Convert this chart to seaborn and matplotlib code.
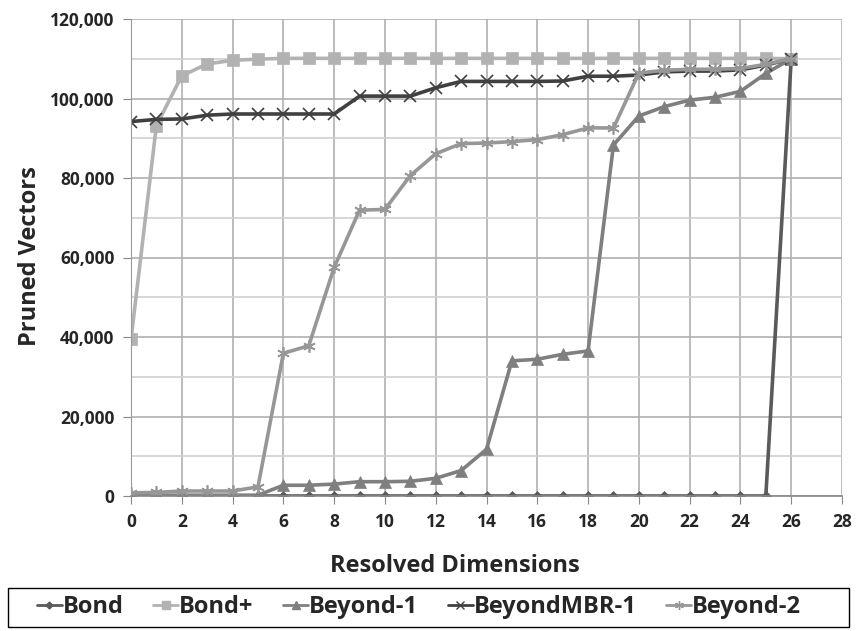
import numpy as np
import pandas as pd
import seaborn as sns
import matplotlib
matplotlib.use("Agg")
import matplotlib.pyplot as plt
from matplotlib.ticker import FuncFormatter, MultipleLocator
from matplotlib.lines import Line2D
from matplotlib.patches import Rectangle

dims = list(range(0, 27))

bond = [0] * 26 + [110000]
bond_plus = [39400, 93200, 105700, 108700, 109600, 109900] + [110100] * 20 + [110000]
beyond_1 = [200, 200, 200, 200, 200, 200, 2700, 2700, 3000, 3600, 3600, 3700, 4450,
            6400, 11750, 34000, 34400, 35650, 36500, 88300, 95600, 97950, 99600,
            100300, 101800, 106300, 110000]
beyond_mbr_1 = [94200, 94750, 94850, 95800, 96100, 96100, 96100, 96100, 96100, 100600,
                100600, 100600, 102700, 104300, 104300, 104300, 104300, 104400, 105600,
                105600, 105900, 106700, 106900, 106900, 107200, 108400, 110000]
beyond_2 = [800, 900, 1250, 1250, 1250, 2300, 35900, 37800, 57500, 71900, 72100, 80600,
            86100, 88650, 88800, 89150, 89650, 90900, 92600, 92600, 106400, 107100,
            107350, 107350, 107550, 108600, 110000]

series_names = ["Bond", "Bond+", "Beyond-1", "BeyondMBR-1", "Beyond-2"]
series_vals = [bond, bond_plus, beyond_1, beyond_mbr_1, beyond_2]

df = pd.DataFrame({
    "dim": dims * len(series_names),
    "val": sum(series_vals, []),
    "series": sum([[n] * len(dims) for n in series_names], []),
})

colors = {"Bond": "#5a5a5a", "Bond+": "#b2b2b2", "Beyond-1": "#7f7f7f",
          "BeyondMBR-1": "#404040", "Beyond-2": "#979797"}
markers = {"Bond": "D", "Bond+": "s", "Beyond-1": "^", "BeyondMBR-1": "x",
           "Beyond-2": (6, 2, 0)}
msizes = {"Bond": 5, "Bond+": 8, "Beyond-1": 8, "BeyondMBR-1": 8, "Beyond-2": 9}

sns.set_style("white")
plt.rcParams["font.family"] = ["Open Sans", "DejaVu Sans"]
plt.rcParams["font.weight"] = "bold"

W, H = 857, 631
fig = plt.figure(figsize=(W / 100, H / 100), dpi=100)
ax = fig.add_axes([131 / W, 1 - 496 / H, (842 - 131) / W, (496 - 19) / H])

ax.yaxis.set_minor_locator(MultipleLocator(10000))
ax.grid(True, which="major", color="#b0b0b0", linewidth=1.2)
ax.grid(True, which="minor", axis="y", color="#d0d0d0", linewidth=1.2)
ax.set_axisbelow(True)

for name in series_names:
    sub = df[df["series"] == name]
    sns.lineplot(data=sub, x="dim", y="val", ax=ax, color=colors[name],
                 marker=markers[name], markersize=msizes[name],
                 markeredgecolor=colors[name], markerfacecolor=colors[name],
                 markeredgewidth=1.2 if name in ("BeyondMBR-1", "Beyond-2") else 0.5,
                 linewidth=2.6, label=name, legend=False)

ax.set_xlim(0, 28)
ax.set_ylim(0, 120000)
ax.set_xticks(range(0, 29, 2))
ax.set_yticks(range(0, 120001, 20000))
ax.yaxis.set_major_formatter(FuncFormatter(lambda v, p: f"{int(v):,}"))
ax.tick_params(axis="both", which="major", labelsize=12.5, length=6, color="#888888",
               direction="out", left=True, bottom=True, pad=6)
ax.tick_params(axis="y", which="minor", length=0)
for lab in ax.get_xticklabels() + ax.get_yticklabels():
    lab.set_fontweight("bold")

for s in ["top", "right"]:
    ax.spines[s].set_visible(False)
ax.spines["left"].set_color("#999999")
ax.spines["bottom"].set_color("#888888")
ax.spines["bottom"].set_linewidth(1.2)

ax.set_xlabel("")
ax.set_ylabel("")
fig.text(455 / W, 1 - 566 / H, "Resolved Dimensions", fontsize=17, fontweight="bold",
         ha="center", va="center")
fig.text(30 / W, 1 - 256 / H, "Pruned Vectors", fontsize=17, fontweight="bold",
         ha="center", va="center", rotation=90)

fig.patches.append(Rectangle((8 / W, 1 - 627 / H), 841 / W, 39 / H,
                             transform=fig.transFigure, fill=False,
                             edgecolor="#000000", linewidth=1.0))

handles = [Line2D([0], [0], color=colors[n], marker=markers[n], markersize=msizes[n] * 0.7,
                  markeredgecolor=colors[n], linewidth=2) for n in series_names]
leg = fig.legend(handles, series_names, loc="center", ncol=5,
                 bbox_to_anchor=(419 / W, 1 - 607 / H),
                 frameon=False, handlelength=1.05, columnspacing=1.25,
                 handletextpad=0.05, borderaxespad=0, borderpad=0,
                 prop={"size": 17, "weight": "bold"})

fig.savefig("out.png", dpi=100)
